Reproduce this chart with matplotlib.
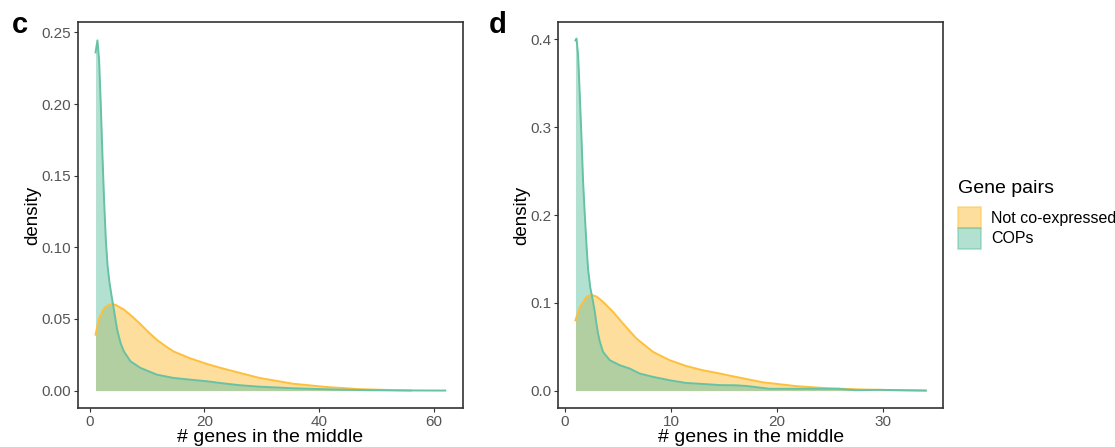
import numpy as np
import matplotlib.pyplot as plt

plt.rcParams['font.family'] = ['Liberation Sans', 'DejaVu Sans']

# panel c: density of # genes between the two genes of a pair
c_x_cop = [1.0, 1.33, 1.62, 1.91, 2.2, 2.5, 2.8, 3.1, 3.45, 3.8, 4.1, 4.5, 4.8, 5.38, 5.95,
           7.1, 8.84, 11.7, 14.6, 17.5, 20.4, 23.3, 26.2, 29.6, 35.4, 41.2, 48.0, 55.0, 62.0]
c_y_cop = [0.236, 0.2444, 0.231, 0.200, 0.165, 0.132, 0.105, 0.087, 0.075, 0.066, 0.059,
           0.049, 0.042, 0.033, 0.0273, 0.0204, 0.0158, 0.0111, 0.0088, 0.0076, 0.0065,
           0.0050, 0.0037, 0.0027, 0.0016, 0.0009, 0.0003, 0.0001, 0.0]
c_x_not = [1.0, 1.62, 2.49, 3.2, 3.9, 4.5, 5.95, 7.4, 8.84, 10.3, 11.7, 13.2, 14.6, 17.5,
           20.4, 23.3, 26.2, 29.6, 35.4, 41.2, 47.0, 52.8, 56.0]
c_y_not = [0.039, 0.0505, 0.0574, 0.0596, 0.0604, 0.0598, 0.0565, 0.0517, 0.0463, 0.0405,
           0.0354, 0.031, 0.0273, 0.0225, 0.0186, 0.0153, 0.0123, 0.0088, 0.0048, 0.0025,
           0.0010, 0.0003, 0.0]

# panel d
d_x_cop = [1.0, 1.1, 1.25, 1.41, 1.57, 1.72, 1.88, 2.04, 2.19, 2.4, 2.6, 2.82, 2.98, 3.13,
           3.29, 3.6, 4.23, 5.17, 6.1, 7.05, 8.3, 9.87, 11.4, 13.0, 14.6, 16.1, 17.1, 19.3,
           23.3, 25.8, 27.4, 29.6, 34.0]
d_y_cop = [0.399, 0.401, 0.382, 0.336, 0.287, 0.238, 0.200, 0.166, 0.138, 0.117, 0.105,
           0.090, 0.076, 0.065, 0.056, 0.044, 0.0346, 0.0289, 0.0251, 0.0194, 0.0156,
           0.0117, 0.0087, 0.0075, 0.0062, 0.0060, 0.0052, 0.0020, 0.0020, 0.0020, 0.0004,
           0.0008, 0.0]
d_x_not = [1.0, 1.41, 2.04, 2.5, 3.0, 3.6, 4.54, 5.48, 6.74, 8.3, 9.87, 11.4, 13.0, 14.6,
           16.1, 18.6, 21.8, 24.9, 28.0, 31.2, 34.0]
d_y_not = [0.080, 0.095, 0.1068, 0.109, 0.107, 0.101, 0.0897, 0.0763, 0.0593, 0.0441,
           0.0346, 0.0281, 0.0231, 0.0194, 0.0156, 0.0095, 0.0050, 0.0025, 0.0012, 0.0004, 0.0]

groups = ['Not co-expressed', 'COPs']
colors = ['#FDBF3C', '#66C2A5']

fig = plt.figure(figsize=(11.15, 4.47), dpi=100)
ax_c = fig.add_axes([0.070, 0.087, 0.345, 0.864])
ax_d = fig.add_axes([0.5004, 0.087, 0.3456, 0.864])


def draw_density(ax, series, xlim, ylim, yticks, xticks, yfmt):
    for (x, y), col in zip(series, colors):
        ax.fill_between(x, 0, y, color=col, alpha=0.5, lw=0)
        ax.plot(x, y, color=col, lw=1.4, solid_joinstyle='round')
    ax.set_xlim(*xlim)
    ax.set_ylim(*ylim)
    ax.set_yticks(yticks)
    ax.set_yticklabels([yfmt.format(v) for v in yticks])
    ax.set_xticks(xticks)
    ax.tick_params(colors='#333333', labelcolor='#555555', labelsize=11, length=3,
                   width=0.8, pad=2)
    for s in ax.spines.values():
        s.set_color('#333333')
        s.set_linewidth(1.2)
    ax.set_xlabel('# genes in the middle', fontsize=14, labelpad=0)
    ax.set_ylabel('density', fontsize=13.5, labelpad=0)


draw_density(ax_c, [(c_x_not, c_y_not), (c_x_cop, c_y_cop)], (-2.05, 65.05), (-0.01225, 0.2573),
             [0, 0.05, 0.10, 0.15, 0.20, 0.25], [0, 20, 40, 60], '{:.2f}')
draw_density(ax_d, [(d_x_not, d_y_not), (d_x_cop, d_y_cop)], (-0.65, 35.65), (-0.02, 0.42),
             [0, 0.1, 0.2, 0.3, 0.4], [0, 10, 20, 30], '{:.1f}')

fig.text(0.0108, 0.926, 'c', fontsize=21, fontweight='bold')
fig.text(0.4386, 0.926, 'd', fontsize=21, fontweight='bold')

# legend
fig.text(0.859, 0.579, 'Gene pairs', fontsize=14, va='center')
handles = [plt.Rectangle((0, 0), 1, 1, facecolor=c, alpha=0.5, edgecolor=c, lw=1.2) for c in colors]
fig.legend(handles, groups, loc='upper left', bbox_to_anchor=(0.8466, 0.568),
           frameon=False, fontsize=11.5, handlelength=1.45, handleheight=1.6,
           handletextpad=0.6, labelspacing=0.0)

fig.savefig('out.png', dpi=100)
